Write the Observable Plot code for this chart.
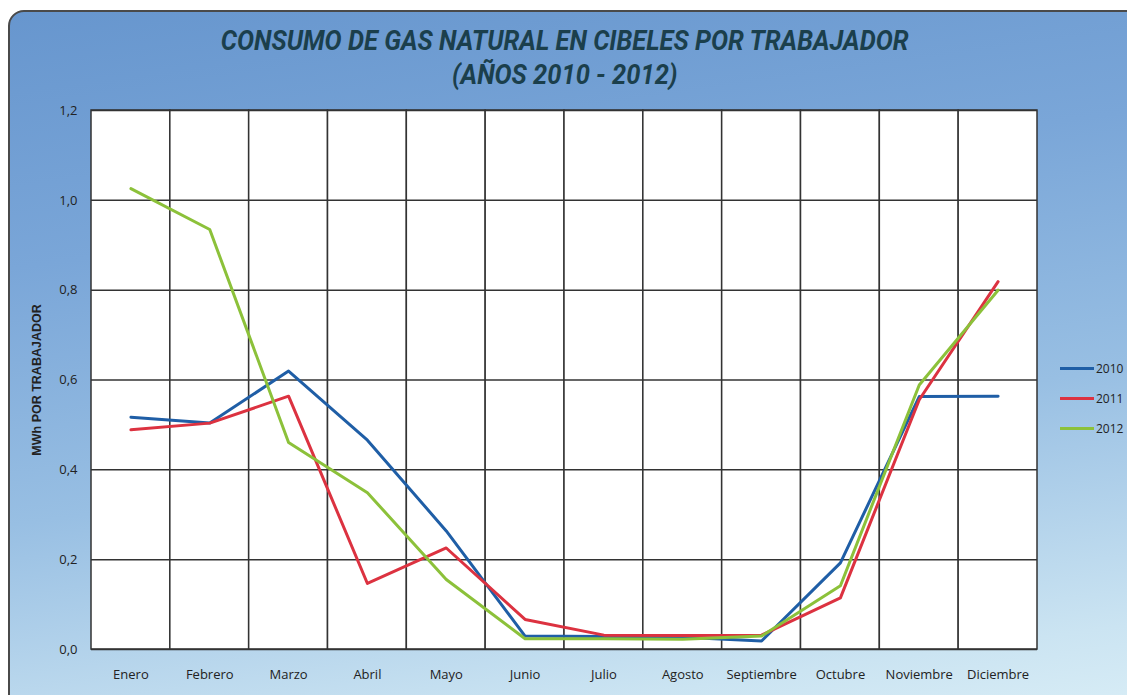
<!DOCTYPE html>
<html>
<head>
<meta charset="utf-8">
<script src="https://cdn.jsdelivr.net/npm/d3@7"></script>
<script src="https://cdn.jsdelivr.net/npm/@observablehq/plot@0.6"></script>
<style>
  html, body { margin: 0; padding: 0; background: #fff; }
  #wrap {
    position: relative; width: 1127px; height: 695px; overflow: hidden;
    background: #fff;
  }
  #panel {
    position: absolute; left: 8px; top: 10px; width: 1140px; height: 700px;
    border: 2px solid #4a4a4a; border-radius: 16px; box-sizing: border-box;
    background: linear-gradient(172deg, #6796ce 0%, #7aa6d8 30%, #98bfe3 60%, #cbe4f2 90%, #d8edf6 100%);
  }
  #title {
    position: absolute; left: 0; width: 1127px; top: 24px; text-align: center;
    font-family: "Roboto", sans-serif; font-style: italic; font-weight: bold;
    font-size: 28px; line-height: 34px; color: #1b3f4c;
    transform: scaleX(0.91); transform-origin: 577px 0;
  }
  #chart { position: absolute; left: 0; top: 0; }
  #legend {
    position: absolute; left: 1060px; top: 353px;
    font-family: "Open Sans", sans-serif; font-size: 12px; color: #222;
  }
  .li { display: flex; align-items: center; height: 30px; }
  .sw { width: 34px; height: 3px; margin-right: 2px; }
</style>
</head>
<body>
<div id="wrap">
  <div id="panel"></div>
  <div id="title">CONSUMO DE GAS NATURAL EN CIBELES POR TRABAJADOR<br>(AÑOS 2010 - 2012)</div>
  <div id="chart"></div>
  <div id="legend"></div>
</div>
<script>
const months = ["Enero","Febrero","Marzo","Abril","Mayo","Junio","Julio","Agosto","Septiembre","Octubre","Noviembre","Diciembre"];
const years = ["2010","2011","2012"];
const colors = ["#1f5ea6","#dc3240","#8cc13a"];
const v2010 = [0.517,0.504,0.620,0.466,0.264,0.030,0.029,0.027,0.019,0.193,0.563,0.564];
const v2011 = [0.489,0.504,0.564,0.147,0.226,0.067,0.032,0.031,0.032,0.115,0.556,0.819];
const v2012 = [1.026,0.935,0.461,0.349,0.156,0.024,0.024,0.023,0.030,0.142,0.589,0.800];
const yTicks = [0,0.2,0.4,0.6,0.8,1.0,1.2];
const yLabel = "MWh POR TRABAJADOR";

const series = [v2010, v2011, v2012];
const data = [];
years.forEach((yr, i) => months.forEach((m, j) => data.push({year: yr, month: m, value: series[i][j]})));

const fmt = d => d3.format(".1f")(d).replace(".", ",");

const chart = Plot.plot({
  width: 1127,
  height: 695,
  marginLeft: 91,
  marginRight: 90,
  marginTop: 110,
  marginBottom: 46,
  style: {background: "transparent", fontFamily: "'Open Sans', sans-serif", fontSize: "13px", color: "#222", overflow: "visible"},
  x: {type: "band", domain: months, padding: 0, round: false, label: null},
  y: {domain: [0, 1.2], label: null},
  color: {domain: years, range: colors},
  marks: [
    Plot.cell(months, {x: d => d, fill: "white", stroke: "#333", strokeWidth: 1.5}),
    Plot.ruleY(yTicks, {stroke: "#333", strokeWidth: 1.5}),
    Plot.axisX({tickSize: 0, tickPadding: 20, fontSize: 13, label: null}),
    Plot.axisY({ticks: yTicks, tickSize: 0, tickPadding: 14, tickFormat: fmt, fontSize: 13, label: null}),
    Plot.text([yLabel], {frameAnchor: "left", text: d => d, rotate: -90, dx: -55, textAnchor: "middle", fontWeight: "bold", fontSize: 12.5, fontFamily: "'Liberation Sans', Arial, sans-serif", fill: "#222"}),
    Plot.lineY(data, {x: "month", y: "value", z: "year", stroke: "year", strokeWidth: 3, strokeLinejoin: "round"})
  ]
});
document.getElementById("chart").appendChild(chart);

const legend = document.getElementById("legend");
years.forEach((yr, i) => {
  const row = document.createElement("div");
  row.className = "li";
  row.innerHTML = `<div class="sw" style="background:${colors[i]}"></div><span>${yr}</span>`;
  legend.appendChild(row);
});
</script>
</body>
</html>
